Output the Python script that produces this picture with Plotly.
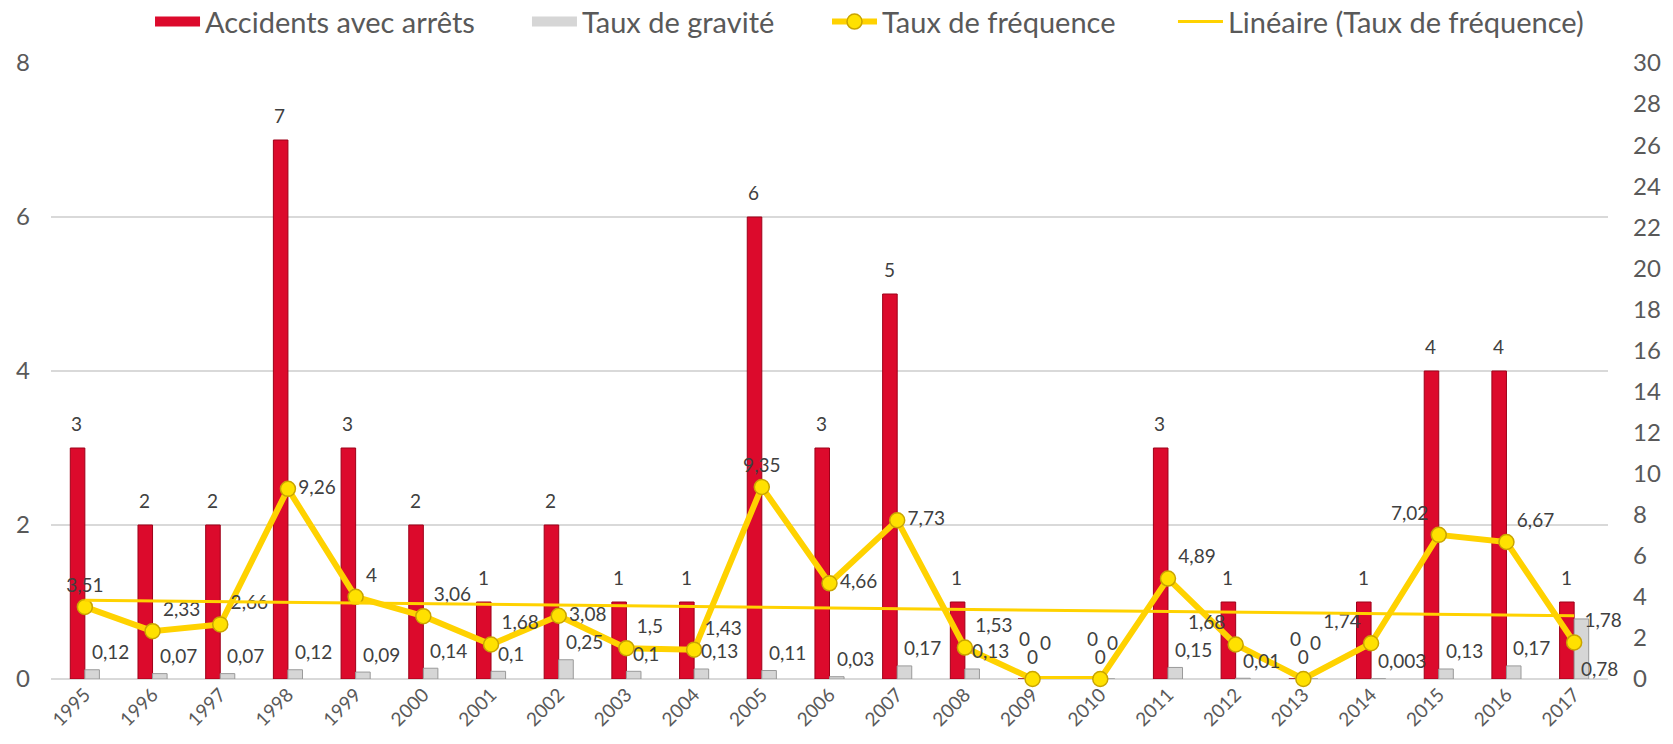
import numpy as np
import plotly.graph_objects as go

years = [str(y) for y in range(1995, 2018)]
accidents = [3, 2, 2, 7, 3, 2, 1, 2, 1, 1, 6, 3, 5, 1, 0, 0, 3, 1, 0, 1, 4, 4, 1]
gravite = [0.12, 0.07, 0.07, 0.12, 0.09, 0.14, 0.1, 0.25, 0.1, 0.13, 0.11, 0.03,
           0.17, 0.13, 0, 0, 0.15, 0.01, 0, 0.003, 0.13, 0.17, 0.78]
frequence = [3.51, 2.33, 2.66, 9.26, 4, 3.06, 1.68, 3.08, 1.5, 1.43, 9.35, 4.66,
             7.73, 1.53, 0, 0, 4.89, 1.68, 0, 1.74, 7.02, 6.67, 1.78]

# label placement (style only)
freq_pos = ["top center", "top right", "top right", "middle right", "top right",
            "top right", "top right", "middle right", "top right", "top right",
            "top center", "middle right", "middle right", "top right", "top center",
            "top center", "top right", "top left", "top center", "top left",
            "top left", "top right", "top right"]
grav_yshift = [18] * 22 + [-50]


def fr(v):
    return f"{v:g}".replace(".", ",")


# Linear trendline of the frequency rate (least squares, as Excel does)
idx = np.arange(1, len(years) + 1)
slope, intercept = np.polyfit(idx, frequence, 1)
trend = slope * idx + intercept

FONT = "Lato, sans-serif"
LBL = "#404040"
TICK = "#595959"
RED = "#DC0A2C"
GRAY = "#D6D6D6"
YEL = "#FFD200"
LFONT = dict(size=19, color=LBL, family=FONT)

fig = go.Figure()
fig.add_trace(go.Bar(
    x=years, y=accidents, name="Accidents avec arrêts", legendgroup="acc",
    showlegend=False,
    marker=dict(color=RED, line=dict(color="#9E0019", width=1)),
))
fig.add_trace(go.Bar(
    x=years, y=gravite, name="Taux de gravité", legendgroup="grav",
    showlegend=False,
    marker=dict(color=GRAY, line=dict(color="#9A9A9A", width=1)),
))
fig.add_trace(go.Scatter(
    x=years, y=frequence, name="Taux de fréquence", yaxis="y2", legend="legend3",
    mode="lines+markers+text",
    line=dict(color=YEL, width=6),
    marker=dict(color="#FFE100", size=15, line=dict(color="#C9A400", width=1.5)),
    text=[fr(v) for v in frequence], textposition=freq_pos,
    textfont=LFONT, cliponaxis=False,
))
fig.add_trace(go.Scatter(
    x=years, y=trend, name="Linéaire (Taux de fréquence)", yaxis="y2", legend="legend4",
    mode="lines", line=dict(color=YEL, width=3), hoverinfo="skip",
))
# legend swatches for the bar series (wide flat boxes like the original)
fig.add_trace(go.Scatter(
    x=[None], y=[None], name="Accidents avec arrêts", legendgroup="acc", legend="legend",
    mode="lines", line=dict(color=RED, width=14),
))
fig.add_trace(go.Scatter(
    x=[None], y=[None], name="Taux de gravité", legendgroup="grav", legend="legend2",
    mode="lines", line=dict(color=GRAY, width=14),
))

# data labels of the bars (x given as category index); labels of empty bars sit higher
for i, a in enumerate(accidents):
    fig.add_annotation(x=i, y=a, text=fr(a), showarrow=False, xanchor="center",
                       yanchor="bottom", xshift=-8, yshift=(27 if a == 0 else 11),
                       font=LFONT)
for i, (g, ys) in enumerate(zip(gravite, grav_yshift)):
    fig.add_annotation(x=i, y=g, text=fr(g), showarrow=False, xanchor="left",
                       yanchor="middle", xshift=5, yshift=(37 if g == 0 else ys),
                       font=LFONT)

leg_common = dict(orientation="h", yanchor="middle", y=1.067, xanchor="left",
                  font=dict(size=29, color=TICK, family=FONT), itemwidth=45,
                  bgcolor="rgba(0,0,0,0)")

fig.update_layout(
    width=1673, height=744,
    margin=dict(l=51, r=65, t=63, b=65, autoexpand=False),
    paper_bgcolor="white", plot_bgcolor="white",
    barmode="group", bargap=0.57, bargroupgap=0,
    font=dict(family=FONT, color=TICK, size=24),
    legend=dict(x=0.0636, **leg_common),
    legend2=dict(x=0.3057, **leg_common),
    legend3=dict(x=0.4984, **leg_common),
    legend4=dict(x=0.7206, **leg_common),
    xaxis=dict(type="category", range=[-0.5, len(years) - 0.5], tickangle=-45,
               tickfont=dict(size=19, color=TICK),
               showgrid=False, showline=False, ticks="", automargin=False),
    yaxis=dict(range=[0, 8], dtick=2, showgrid=True, gridcolor="#D9D9D9", gridwidth=1.5,
               zeroline=True, zerolinecolor="#D9D9D9", zerolinewidth=1.5,
               tickfont=dict(size=24, color=TICK), ticks="", automargin=False,
               ticklabelstandoff=20),
    yaxis2=dict(range=[0, 30], dtick=2, overlaying="y", side="right", showgrid=False,
                zeroline=False, tickfont=dict(size=24, color=TICK), automargin=False,
                ticklabelstandoff=24),
)

# remove the browser's default 8 px body margin so the figure fills the window
fig.write_html("out.html", config={"displayModeBar": False},
               post_script="document.body.style.margin='0';")
